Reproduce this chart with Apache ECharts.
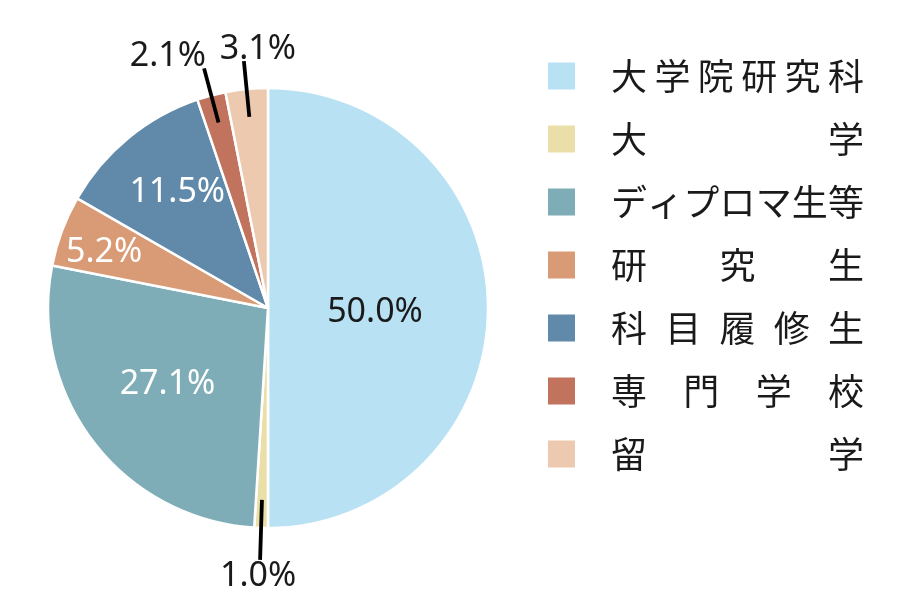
<!DOCTYPE html>
<html>
<head>
<meta charset="utf-8">
<script src="https://cdn.jsdelivr.net/npm/echarts@6/dist/echarts.min.js"></script>
<style>
html,body{margin:0;padding:0;background:#fff;}
#chart{width:900px;height:600px;}
</style>
</head>
<body>
<div id="chart"></div>
<script>
// ---- data ----
const categories = ['大学院研究科', '大学', 'ディプロマ生等', '研究生', '科目履修生', '専門学校', '留学'];
const shares = [50.0, 1.0, 27.1, 5.2, 11.5, 2.1, 3.1];
const sliceColors = ['#B8E1F4', '#EADFA8', '#7EADB7', '#D99B75', '#6089AA', '#C1735D', '#EDCAAF'];

// which slices get inside vs outside labels
const insideLabelIdx = [0, 2, 3, 4];
const outsideLabelIdx = [1, 5, 6];

// ---- styling helpers ----
const PCT_FONT = '"Noto Sans", sans-serif';
const LEG_FONT = '"Noto Sans CJK JP", sans-serif';
const LEG_FS = 36;
const LEG_W = 253;
const insideShift = {0: [-6, 4], 2: [-11, 7], 3: [-58, -16], 4: [-19, -28]};

const rich = {
  lead: {width: 30, lineHeight: 36, fontSize: LEG_FS, fontFamily: LEG_FONT},
  c: {width: LEG_FS, align: 'center', lineHeight: 36, fontSize: LEG_FS, fontFamily: LEG_FONT, color: '#1a1a1a'}
};
for (let n = 2; n <= 8; n++) {
  rich['g' + n] = {width: Math.max(0.01, (LEG_W - n * LEG_FS) / (n - 1)), lineHeight: 36, fontSize: 4, fontFamily: LEG_FONT};
}
function legendFormatter(name) {
  const chars = Array.from(name);
  const n = chars.length;
  let s = '{lead| }';
  chars.forEach((ch, i) => {
    s += '{c|' + ch + '}';
    if (i < n - 1) s += '{g' + n + '| }';
  });
  return s;
}

const pctFmt = p => p.value.toFixed(1) + '%';

const mainData = categories.map((name, i) => ({
  name: name,
  value: shares[i],
  itemStyle: {color: sliceColors[i]},
  label: {
    show: insideLabelIdx.includes(i),
    color: i === 0 ? '#1a1a1a' : '#ffffff'
  }
}));

const outerData = categories.map((name, i) => ({
  name: name,
  value: shares[i],
  label: {show: outsideLabelIdx.includes(i)},
  labelLine: {show: outsideLabelIdx.includes(i), length: i === 1 ? 60 : 56}
}));

const chart = echarts.init(document.getElementById('chart'), null, {renderer: 'canvas'});
chart.setOption({
  animation: false,
  color: sliceColors,
  legend: {
    orient: 'vertical',
    left: 546,
    top: 58,
    padding: 0,
    itemGap: 27,
    itemWidth: 29,
    itemHeight: 29,
    icon: 'rect',
    selectedMode: false,
    data: categories,
    formatter: legendFormatter,
    textStyle: {fontSize: LEG_FS, fontFamily: LEG_FONT, color: '#1a1a1a', rich: rich}
  },
  series: [
    {
      name: 'main',
      type: 'pie',
      z: 2,
      center: [268, 308],
      radius: [0, 220],
      startAngle: 90,
      clockwise: true,
      avoidLabelOverlap: false,
      itemStyle: {borderColor: '#ffffff', borderWidth: 2.5},
      label: {
        position: 'inside',
        formatter: pctFmt,
        fontFamily: PCT_FONT,
        fontSize: 34
      },
      labelLine: {show: false},
      labelLayout: function (p) {
        const s = insideShift[p.dataIndex];
        return s ? {dx: s[0], dy: s[1]} : {};
      },
      emphasis: {disabled: true},
      data: mainData
    },
    {
      name: 'outer',
      type: 'pie',
      z: 5,
      zlevel: 1,
      center: [268, 308],
      radius: [0, 192],
      startAngle: 90,
      clockwise: true,
      silent: true,
      avoidLabelOverlap: false,
      itemStyle: {color: 'rgba(0,0,0,0)', borderWidth: 0},
      label: {
        position: 'outside',
        formatter: pctFmt,
        fontFamily: PCT_FONT,
        fontSize: 34,
        color: '#1a1a1a'
      },
      labelLine: {
        length2: 0,
        smooth: false,
        lineStyle: {color: '#000000', width: 3.8}
      },
      labelLayout: function (p) {
        const pts = p.labelLinePoints;
        if (!pts) return {};
        const end = pts[pts.length - 1];
        if (p.dataIndex === 1) {
          return {x: end[0] - 2, y: end[1] - 1, align: 'center', verticalAlign: 'top', labelLinePoints: pts};
        }
        if (p.dataIndex === 5) {
          return {x: end[0] + 2, y: end[1] + 5, align: 'right', verticalAlign: 'bottom', labelLinePoints: pts};
        }
        if (p.dataIndex === 6) {
          return {x: end[0] + 14, y: end[1] + 5, align: 'center', verticalAlign: 'bottom', labelLinePoints: pts};
        }
        return {};
      },
      emphasis: {disabled: true},
      data: outerData
    }
  ]
});
</script>
</body>
</html>
